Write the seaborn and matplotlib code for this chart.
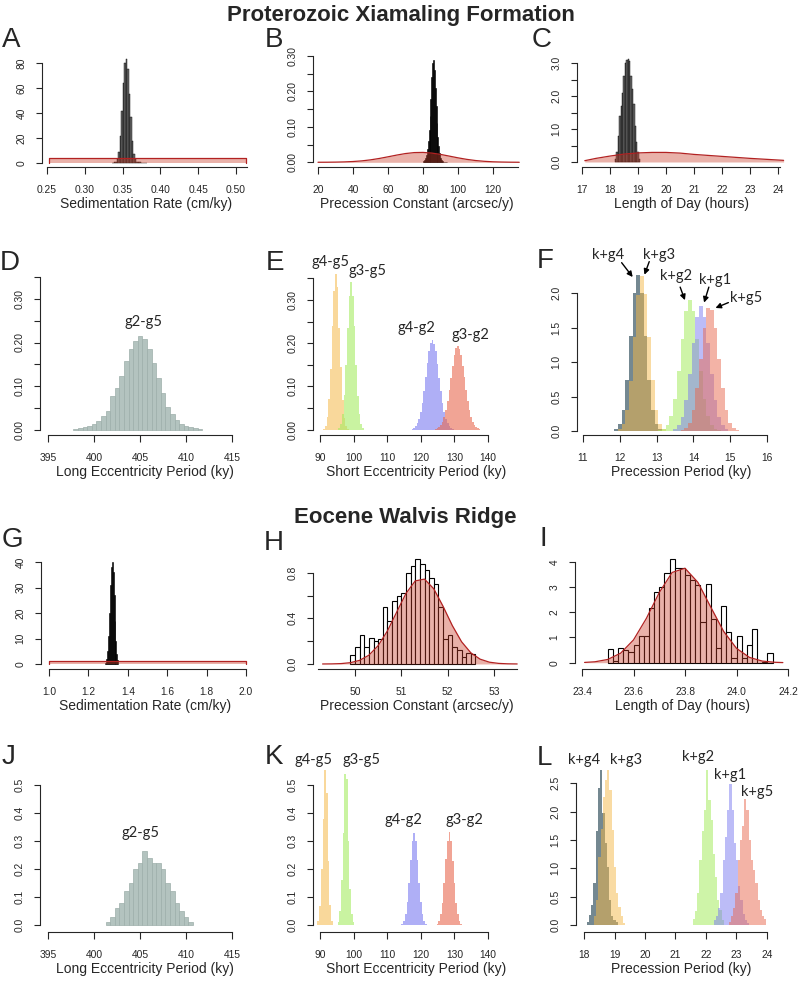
import numpy as np
import matplotlib
matplotlib.use("Agg")
import matplotlib.pyplot as plt
import seaborn as sns

sns.set_theme(style="ticks")
plt.rcParams['font.family'] = ['Liberation Sans', 'DejaVu Sans']
plt.rcParams['axes.linewidth'] = 0.8

# ---------------- data (density per bin, bins given by left edge + width) ----------------
# A  Proterozoic sedimentation rate
a_start, a_width = 0.336, 0.002
a_dens = [0.3, 0.6, 1, 3, 9, 22, 42, 64, 80, 83, 75, 55, 37, 18, 7, 3, 1.2, 0.8, 0.5, 0.4, 0.3, 0.2, 0.2]
a_prior_x = [0.2526, 0.2526, 0.5135, 0.5135]
a_prior_y = [0, 3.8, 3.8, 0]

# B  precession constant
b_start, b_width = 80.25, 0.5
b_dens = [0.003, 0.006, 0.012, 0.022, 0.038, 0.06, 0.09, 0.13, 0.18, 0.24, 0.28, 0.29, 0.26,
          0.21, 0.16, 0.11, 0.07, 0.045, 0.025, 0.013, 0.006, 0.003, 0.002, 0.0015, 0.001, 0.001, 0.0005]
b_prior_x = [20, 25, 30, 35, 40, 45, 50, 55, 60, 65, 70, 75, 80, 85, 90, 95, 100, 105, 110, 115, 120, 125, 130, 135]
b_prior_y = [0.0001, 0.0002, 0.0005, 0.0011, 0.0022, 0.004, 0.0069, 0.0108, 0.0155, 0.0204, 0.0247, 0.0274,
             0.0279, 0.026, 0.0223, 0.0175, 0.0126, 0.0083, 0.005, 0.0028, 0.0014, 0.0007, 0.0003, 0.0001]

# C  length of day
c_start, c_width = 18.175, 0.05
c_dens = [0.08, 0.3, 0.8, 1.38, 1.7, 2.09, 2.6, 3.0, 3.1, 3.12, 3.05, 2.6, 2.2, 1.75, 1.1, 0.6, 0.3, 0.1]
c_prior_x = [17.1, 17.5, 18.0, 18.5, 19.0, 19.5, 20.0, 20.5, 21.0, 21.5, 22.0, 22.5, 23.0, 23.5, 24.0, 24.2]
c_prior_y = [0.04, 0.11, 0.18, 0.24, 0.275, 0.29, 0.29, 0.27, 0.23, 0.2, 0.17, 0.14, 0.11, 0.085, 0.06, 0.05]

# D  long eccentricity (g2-g5)
d_start, d_width = 397.75, 0.5
d_dens = [0.002, 0.003, 0.005, 0.008, 0.012, 0.02, 0.03, 0.042, 0.078, 0.096, 0.123, 0.158, 0.184, 0.204,
          0.214, 0.208, 0.185, 0.152, 0.118, 0.083, 0.052, 0.035, 0.022, 0.013, 0.008, 0.005, 0.003, 0.002]

# E  short eccentricity terms
e_width = 0.5
e_g4g5_start = 91.0
e_g4g5 = [0.002, 0.009, 0.028, 0.07, 0.14, 0.24, 0.32, 0.36, 0.33, 0.235, 0.145, 0.068, 0.027, 0.009, 0.002]
e_g3g5_start = 95.5
e_g3g5 = [0.003, 0.012, 0.035, 0.08, 0.15, 0.235, 0.31, 0.341, 0.31, 0.24, 0.15, 0.078, 0.036, 0.013, 0.003]
e_g4g2_start = 117.25
e_g4g2 = [0.002, 0.004, 0.007, 0.014, 0.024, 0.041, 0.062, 0.09, 0.121, 0.153, 0.181, 0.2, 0.207, 0.199,
          0.182, 0.152, 0.12, 0.09, 0.062, 0.04, 0.025, 0.014, 0.007, 0.004, 0.002]
e_g3g2_start = 124.25
e_g3g2 = [0.001, 0.003, 0.005, 0.01, 0.017, 0.029, 0.045, 0.066, 0.092, 0.12, 0.148, 0.172, 0.188, 0.194,
          0.187, 0.173, 0.147, 0.121, 0.091, 0.066, 0.045, 0.029, 0.017, 0.01, 0.005, 0.003, 0.001]

# F  precession terms
f_width = 0.1
f_kg4_start = 11.75
f_kg4 = [0.005, 0.025, 0.1, 0.31, 0.74, 1.38, 2.0, 2.27, 2.0, 1.38, 0.74, 0.31, 0.1, 0.025, 0.005]
f_kg3_start = 11.85
f_kg3 = [0.005, 0.025, 0.1, 0.3, 0.73, 1.36, 1.98, 2.25, 1.99, 1.37, 0.74, 0.31, 0.1, 0.025, 0.005]
f_kg2_start = 13.05
f_kg2 = [0.008, 0.027, 0.083, 0.22, 0.47, 0.87, 1.34, 1.74, 1.9, 1.74, 1.34, 0.87, 0.47, 0.22, 0.083, 0.027, 0.008]
f_kg1_start = 13.35
f_kg1 = [0.007, 0.025, 0.08, 0.21, 0.45, 0.83, 1.28, 1.66, 1.81, 1.66, 1.28, 0.83, 0.45, 0.21, 0.08, 0.025, 0.007]
f_kg5_start = 13.65
f_kg5 = [0.01, 0.04, 0.12, 0.3, 0.62, 1.05, 1.5, 1.78, 1.76, 1.5, 1.05, 0.62, 0.3, 0.12, 0.04, 0.01]

# G  Eocene sedimentation rate
g_start, g_width = 1.2825, 0.005
g_dens = [0.5, 2, 5, 11, 20, 31, 38, 40, 36, 27, 17, 9, 4, 1.5]
g_prior_x = [1.0, 1.0, 2.0, 2.0]
g_prior_y = [0, 1.0, 1.0, 0]

# H  precession constant
h_start, h_width = 49.9, 0.1
h_dens = [0.08, 0.15, 0.25, 0.15, 0.23, 0.2, 0.22, 0.5, 0.38, 0.55, 0.6, 0.62, 0.8, 0.86, 0.92, 0.88,
          0.82, 0.75, 0.7, 0.5, 0.22, 0.25, 0.15, 0.12, 0.06, 0.1, 0.09]
h_prior_x = [49.3, 49.5, 49.7, 49.9, 50.1, 50.3, 50.5, 50.7, 50.9, 51.1, 51.3, 51.5, 51.7, 51.9, 52.1,
             52.3, 52.5, 52.7, 52.9, 53.1, 53.3, 53.5]
h_prior_y = [0.0002, 0.001, 0.0036, 0.0116, 0.032, 0.077, 0.161, 0.29, 0.455, 0.618, 0.728, 0.744, 0.659,
             0.506, 0.337, 0.195, 0.098, 0.0425, 0.016, 0.0053, 0.0015, 0.0004]

# I  length of day
i_start, i_width = 23.50, 0.02
i_dens = [0.54, 0.07, 0.59, 0.5, 0.43, 0.7, 1.05, 1.05, 2.18, 2.8, 3.0, 3.57, 4.1, 3.77, 3.74, 3.48,
          3.28, 3.08, 1.62, 3.12, 1.75, 0.6, 2.26, 1.2, 0.17, 1.05, 0.2, 0.72, 1.35, 0.0, 0.03, 0.37]
i_prior_x = [23.41, 23.45, 23.50, 23.55, 23.60, 23.65, 23.70, 23.75, 23.80, 23.85, 23.90, 23.95, 24.00,
             24.05, 24.10, 24.15, 24.18]
i_prior_y = [0.011, 0.036, 0.128, 0.377, 0.902, 1.755, 2.777, 3.574, 3.74, 3.183, 2.203, 1.241, 0.569,
             0.211, 0.064, 0.016, 0.006]

# J  long eccentricity
j_start, j_width = 401.25, 0.5
j_dens = [0.01, 0.03, 0.06, 0.08, 0.12, 0.15, 0.2, 0.22, 0.265, 0.24, 0.22, 0.22, 0.2, 0.15, 0.12, 0.08, 0.05, 0.03, 0.01]

# K  short eccentricity
k_width = 0.5
k_g4g5_start = 89.25
k_g4g5 = [0.013, 0.067, 0.2, 0.38, 0.557, 0.47, 0.23, 0.07, 0.013]
k_g3g5_start = 95.25
k_g3g5 = [0.01, 0.05, 0.16, 0.33, 0.54, 0.52, 0.3, 0.13, 0.04, 0.01]
k_g4g2_start = 114.25
k_g4g2 = [0.005, 0.015, 0.038, 0.082, 0.15, 0.233, 0.3, 0.33, 0.3, 0.233, 0.15, 0.082, 0.038, 0.015, 0.005]
k_g3g2_start = 124.75
k_g3g2 = [0.005, 0.015, 0.038, 0.08, 0.15, 0.235, 0.3, 0.333, 0.3, 0.23, 0.15, 0.08, 0.038, 0.015, 0.005]

# L  precession
l_width = 0.073
l_kg4_start = 18.082
l_kg4 = [0.05, 0.18, 0.35, 0.74, 1.65, 2.41, 2.75, 1.98, 1.44, 1.03, 0.44, 0.15, 0.08, 0.06]
l_kg3_start = 18.317
l_kg3 = [0.15, 0.44, 1.2, 1.7, 2.26, 2.56, 2.76, 2.38, 1.68, 1.03, 0.56, 0.32, 0.15, 0.03]
l_kg2_start = 21.57
l_kg2 = [0.1, 0.24, 0.56, 1.15, 1.65, 2.03, 2.74, 2.2, 1.85, 1.26, 0.85, 0.44, 0.26, 0.09]
l_kg1_start = 22.26
l_kg1 = [0.08, 0.15, 0.3, 0.56, 1.15, 1.56, 2.03, 2.49, 2.03, 1.44, 1.15, 0.68, 0.44, 0.2, 0.09, 0.04]
l_kg5_start = 22.75
l_kg5 = [0.05, 0.15, 0.3, 0.56, 1.15, 1.5, 1.74, 2.22, 2.03, 1.5, 1.15, 0.97, 0.74, 0.44, 0.26, 0.15, 0.1]

# ---------------- style ----------------
PRIOR_LINE = '#B22222'
PRIOR_FILL = '#C83C28'
GRAYGREEN = '#B3C3BF'
ORANGE = '#F5B849'
GREEN = '#A6EB62'
BLUE = '#7A7AF0'
RED = '#E8684E'
SLATE = '#46606C'
LABEL_FONT = ['Lato', 'DejaVu Sans']

W, H = 802, 982
fig = plt.figure(figsize=(W / 100, H / 100), dpi=100)


def px_axes(box, xcal, ycal):
    left, right, top, bottom = box
    ax = fig.add_axes([left / W, 1 - bottom / H, (right - left) / W, (bottom - top) / H])
    (p1, v1), (p2, v2) = xcal
    sx = (v2 - v1) / (p2 - p1)
    (q1, u1), (q2, u2) = ycal
    sy = (u2 - u1) / (q2 - q1)
    lims = ((v1 + (left - p1) * sx, v1 + (right - p1) * sx),
            (u1 + (bottom - q1) * sy, u1 + (top - q1) * sy))
    return ax, lims


def hist(ax, start, width, dens, color, alpha=1.0, edge=None, lw=0.5):
    edges = [start + width * i for i in range(len(dens) + 1)]
    mids = [e + width / 2 for e in edges[:-1]]
    sns.histplot(x=mids, weights=list(dens), bins=edges, ax=ax, stat="count", color=color,
                 alpha=alpha, edgecolor=edge if edge else color, linewidth=lw)


def prior(ax, x, y):
    ax.fill_between(x, y, color=PRIOR_FILL, alpha=0.4, lw=0, zorder=3)
    ax.plot(x, y, color=PRIOR_LINE, lw=0.9, zorder=4)


def finish(ax, lims, xticks, xfmt, xbounds, yticks, yfmt, ystep, xlabel):
    ax.set_xlim(*lims[0])
    ax.set_ylim(*lims[1])
    ax.set_xticks(xticks)
    ax.set_xticklabels([xfmt.format(t) for t in xticks])
    ax.set_yticks(yticks)
    ax.set_yticklabels([yfmt.format(t) if i % ystep == 0 else '' for i, t in enumerate(yticks)],
                       rotation=90, va='center')
    for s in ['top', 'right']:
        ax.spines[s].set_visible(False)
    ax.spines['bottom'].set_bounds(*xbounds)
    ax.spines['left'].set_bounds(yticks[0], yticks[-1])
    ax.set_xlabel(xlabel, fontsize=10, labelpad=1.5)
    ax.set_ylabel('')
    ax.tick_params(axis='x', length=5, width=0.8, pad=8, labelsize=7.4)
    ax.tick_params(axis='y', length=4, width=0.8, pad=7, labelsize=7.4)
    ax.patch.set_alpha(0)


def ptext(x, y, s, **kw):
    fig.text(x / W, 1 - y / H, s, ha='center', va='center', **kw)


def lab(ax, x, y, s):
    ax.text(x, y, s, ha='center', va='center', fontsize=10.5, family=LABEL_FONT, clip_on=False)


# ---------------- titles and panel letters ----------------
ptext(401, 16, 'Proterozoic Xiamaling Formation', fontsize=16, fontweight='bold')
ptext(405, 517, 'Eocene Walvis Ridge', fontsize=16, fontweight='bold')
for letter, (x, y) in zip('ABCDEFGHIJKL', [(11, 40), (274, 40), (542, 40), (10, 263), (275, 263), (545, 261),
                                          (12, 540), (274, 543), (543, 539), (9, 757), (274, 757), (544, 758)]):
    ptext(x, y, letter, fontsize=20)

# ---------------- A ----------------
ax, lims = px_axes((42, 250, 55, 167), ((47, 0.25), (236, 0.50)), ((163, 0), (63, 80)))
hist(ax, a_start, a_width, a_dens, '#6a6a6a', edge='black', lw=0.3)
prior(ax, a_prior_x, a_prior_y)
finish(ax, lims, [0.25, 0.30, 0.35, 0.40, 0.45, 0.50], '{:.2f}', (0.25, 0.514), [0, 20, 40, 60, 80], '{:d}', 1,
       'Sedimentation Rate (cm/ky)')

# ---------------- B ----------------
ax, lims = px_axes((313, 520, 50, 167), ((318, 20), (493, 120)), ((162.3, 0), (56, 0.30)))
hist(ax, b_start, b_width, b_dens, 'black', edge='black', lw=0.4)
prior(ax, b_prior_x, b_prior_y)
finish(ax, lims, [20, 40, 60, 80, 100, 120], '{:d}', (20, 134.5), [0, 0.05, 0.10, 0.15, 0.20, 0.25, 0.30],
       '{:.2f}', 2, 'Precession Constant (arcsec/y)')

# ---------------- C ----------------
ax, lims = px_axes((577, 786, 55, 167), ((582, 17), (778, 24)), ((162, 0), (63, 3.0)))
hist(ax, c_start, c_width, c_dens, '#6a6a6a', edge='black', lw=0.3)
prior(ax, c_prior_x, c_prior_y)
finish(ax, lims, list(range(17, 25)), '{:d}', (17, 24.07), [0, 0.5, 1.0, 1.5, 2.0, 2.5, 3.0], '{:.1f}', 2,
       'Length of Day (hours)')

# ---------------- D ----------------
ax, lims = px_axes((40, 250, 270, 435), ((48, 395), (232, 415)), ((429.5, 0), (299, 0.30)))
hist(ax, d_start, d_width, d_dens, GRAYGREEN, edge='#9DAEAA', lw=0.5)
lab(ax, 405.4, 0.246, 'g2-g5')
finish(ax, lims, [395, 400, 405, 410, 415], '{:d}', (395, 415), [0, 0.05, 0.10, 0.15, 0.20, 0.25, 0.30, 0.35],
       '{:.2f}', 2, 'Long Eccentricity Period (ky)')

# ---------------- E ----------------
ax, lims = px_axes((313, 520, 270, 435), ((320, 90), (488, 140)), ((429.5, 0), (300, 0.30)))
hist(ax, e_g4g5_start, e_width, e_g4g5, ORANGE, alpha=0.55, lw=0)
hist(ax, e_g3g5_start, e_width, e_g3g5, GREEN, alpha=0.6, lw=0)
hist(ax, e_g4g2_start, e_width, e_g4g2, BLUE, alpha=0.6, lw=0)
hist(ax, e_g3g2_start, e_width, e_g3g2, RED, alpha=0.6, lw=0)
lab(ax, 93.0, 0.389, 'g4-g5')
lab(ax, 104.2, 0.368, 'g3-g5')
lab(ax, 118.8, 0.235, 'g4-g2')
lab(ax, 134.8, 0.22, 'g3-g2')
finish(ax, lims, [90, 100, 110, 120, 130, 140], '{:d}', (90, 140), [0, 0.05, 0.10, 0.15, 0.20, 0.25, 0.30, 0.35],
       '{:.2f}', 2, 'Short Eccentricity Period (ky)')

# ---------------- F ----------------
ax, lims = px_axes((577, 786, 270, 435), ((583, 11), (767, 16)), ((431, 0), (293.3, 2.0)))
hist(ax, f_kg4_start, f_width, f_kg4, SLATE, alpha=0.75, lw=0)
hist(ax, f_kg3_start, f_width, f_kg3, ORANGE, alpha=0.5, lw=0)
hist(ax, f_kg2_start, f_width, f_kg2, GREEN, alpha=0.55, lw=0)
hist(ax, f_kg1_start, f_width, f_kg1, BLUE, alpha=0.5, lw=0)
hist(ax, f_kg5_start, f_width, f_kg5, RED, alpha=0.5, lw=0)
for s, txt, tail, head in [('k+g4', (11.67, 2.56), (12.05, 2.445), (12.35, 2.236)),
                           ('k+g3', (13.07, 2.56), (12.80, 2.46), (12.67, 2.27)),
                           ('k+g2', (13.53, 2.25), (13.64, 2.09), (13.77, 1.90)),
                           ('k+g1', (14.59, 2.20), (14.42, 2.09), (14.29, 1.865)),
                           ('k+g5', (15.43, 1.93), (14.95, 1.865), (14.60, 1.787))]:
    lab(ax, txt[0], txt[1], s)
    ax.annotate('', xy=head, xytext=tail, annotation_clip=False,
                arrowprops=dict(arrowstyle='-|>', color='black', lw=1.0, mutation_scale=8,
                                shrinkA=0, shrinkB=0))
finish(ax, lims, [11, 12, 13, 14, 15, 16], '{:d}', (11, 16), [0, 0.5, 1.0, 1.5, 2.0], '{:.1f}', 1,
       'Precession Period (ky)')

# ---------------- G ----------------
ax, lims = px_axes((41, 250, 555, 669), ((49, 1.0), (246, 2.0)), ((664, 0), (562, 40)))
hist(ax, g_start, g_width, g_dens, 'black', edge='black', lw=0.4)
prior(ax, g_prior_x, g_prior_y)
finish(ax, lims, [1.0, 1.2, 1.4, 1.6, 1.8, 2.0], '{:.1f}', (1.0, 2.0), [0, 10, 20, 30, 40], '{:d}', 1,
       'Sedimentation Rate (cm/ky)')

# ---------------- H ----------------
ax, lims = px_axes((313, 520, 555, 669), ((355, 50), (494, 53)), ((664, 0), (572.7, 0.8)))
hist(ax, h_start, h_width, h_dens, 'white', edge='black', lw=0.8)
prior(ax, h_prior_x, h_prior_y)
finish(ax, lims, [50, 51, 52, 53], '{:d}', (49.2, 53.5), [0, 0.2, 0.4, 0.6, 0.8], '{:.1f}', 2,
       'Precession Constant (arcsec/y)')

# ---------------- I ----------------
ax, lims = px_axes((575, 790, 555, 669), ((582, 23.4), (788, 24.2)), ((662.7, 0), (561.7, 4)))
hist(ax, i_start, i_width, i_dens, 'white', edge='black', lw=0.8)
prior(ax, i_prior_x, i_prior_y)
finish(ax, lims, [23.4, 23.6, 23.8, 24.0, 24.2], '{:.1f}', (23.4, 24.2), [0, 1, 2, 3, 4], '{:d}', 1,
       'Length of Day (hours)')

# ---------------- J ----------------
ax, lims = px_axes((40, 250, 770, 932), ((48, 395), (232, 415)), ((925, 0), (785, 0.5)))
hist(ax, j_start, j_width, j_dens, GRAYGREEN, edge='#9DAEAA', lw=0.5)
lab(ax, 405.0, 0.327, 'g2-g5')
finish(ax, lims, [395, 400, 405, 410, 415], '{:d}', (395, 415), [0, 0.1, 0.2, 0.3, 0.4, 0.5], '{:.1f}', 1,
       'Long Eccentricity Period (ky)')

# ---------------- K ----------------
ax, lims = px_axes((313, 520, 770, 932), ((320, 90), (488, 140)), ((925, 0), (785, 0.5)))
hist(ax, k_g4g5_start, k_width, k_g4g5, ORANGE, alpha=0.55, lw=0)
hist(ax, k_g3g5_start, k_width, k_g3g5, GREEN, alpha=0.6, lw=0)
hist(ax, k_g4g2_start, k_width, k_g4g2, BLUE, alpha=0.6, lw=0)
hist(ax, k_g3g2_start, k_width, k_g3g2, RED, alpha=0.6, lw=0)
lab(ax, 88.0, 0.589, 'g4-g5')
lab(ax, 102.4, 0.589, 'g3-g5')
lab(ax, 114.8, 0.375, 'g4-g2')
lab(ax, 132.9, 0.375, 'g3-g2')
finish(ax, lims, [90, 100, 110, 120, 130, 140], '{:d}', (90, 140), [0, 0.1, 0.2, 0.3, 0.4, 0.5], '{:.1f}', 1,
       'Short Eccentricity Period (ky)')

# ---------------- L ----------------
ax, lims = px_axes((576, 786, 770, 932), ((584.3, 18), (766.7, 24)), ((925, 0), (783.3, 2.5)))
hist(ax, l_kg4_start, l_width, l_kg4, SLATE, alpha=0.75, lw=0)
hist(ax, l_kg3_start, l_width, l_kg3, ORANGE, alpha=0.5, lw=0)
hist(ax, l_kg2_start, l_width, l_kg2, GREEN, alpha=0.55, lw=0)
hist(ax, l_kg1_start, l_width, l_kg1, BLUE, alpha=0.5, lw=0)
hist(ax, l_kg5_start, l_width, l_kg5, RED, alpha=0.5, lw=0)
lab(ax, 18.0, 2.91, 'k+g4')
lab(ax, 19.36, 2.91, 'k+g3')
lab(ax, 21.75, 2.97, 'k+g2')
lab(ax, 22.79, 2.65, 'k+g1')
lab(ax, 23.67, 2.35, 'k+g5')
finish(ax, lims, [18, 19, 20, 21, 22, 23, 24], '{:d}', (18, 24), [0, 0.5, 1.0, 1.5, 2.0, 2.5], '{:.1f}', 1,
       'Precession Period (ky)')

fig.savefig('out.png', dpi=100)
